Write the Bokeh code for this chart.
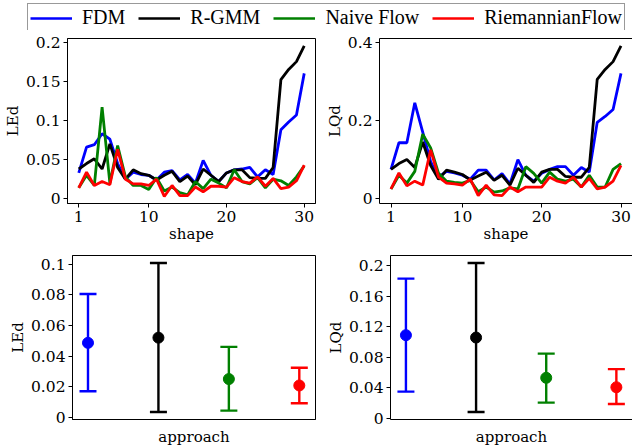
from bokeh.plotting import figure
from bokeh.layouts import column, row
from bokeh.models import (ColumnDataSource, Legend, LegendItem, FixedTicker,
                          CustomJSTickFormatter, Range1d, Whisker, TeeHead, LinearAxis)
from bokeh.embed import file_html
from bokeh.resources import INLINE

FONT = "DejaVu Serif"
LEG_FONT = "Liberation Serif"

approaches = ["FDM", "R-GMM", "Naive Flow", "RiemannianFlow"]
colors = ["#0000ff", "#000000", "#008000", "#ff0000"]

shape = list(range(1, 31))

led_fdm = [0.033, 0.066, 0.069, 0.083, 0.076, 0.045, 0.025, 0.034, 0.031, 0.030,
           0.024, 0.034, 0.036, 0.024, 0.031, 0.020, 0.049, 0.030, 0.022, 0.033,
           0.037, 0.038, 0.040, 0.028, 0.037, 0.031, 0.088, 0.098, 0.107, 0.160]
led_rgmm = [0.038, 0.045, 0.051, 0.038, 0.070, 0.040, 0.025, 0.037, 0.032, 0.030,
            0.024, 0.030, 0.035, 0.022, 0.029, 0.018, 0.038, 0.030, 0.022, 0.033,
            0.037, 0.037, 0.027, 0.026, 0.026, 0.040, 0.152, 0.165, 0.175, 0.195]
led_naive = [0.014, 0.030, 0.017, 0.117, 0.020, 0.068, 0.028, 0.017, 0.017, 0.012,
             0.027, 0.010, 0.015, 0.008, 0.005, 0.022, 0.013, 0.025, 0.020, 0.014,
             0.037, 0.022, 0.019, 0.027, 0.014, 0.025, 0.023, 0.017, 0.028, 0.042]
led_riem = [0.014, 0.034, 0.017, 0.022, 0.018, 0.063, 0.025, 0.019, 0.019, 0.017,
            0.025, 0.003, 0.017, 0.004, 0.004, 0.015, 0.009, 0.016, 0.016, 0.015,
            0.027, 0.022, 0.020, 0.028, 0.016, 0.026, 0.013, 0.015, 0.023, 0.043]

lqd_fdm = [0.075, 0.143, 0.143, 0.245, 0.170, 0.095, 0.055, 0.070, 0.066, 0.060,
           0.050, 0.073, 0.073, 0.048, 0.064, 0.038, 0.100, 0.060, 0.045, 0.065,
           0.075, 0.082, 0.082, 0.060, 0.080, 0.068, 0.195, 0.210, 0.228, 0.320]
lqd_rgmm = [0.075, 0.090, 0.100, 0.080, 0.145, 0.085, 0.050, 0.073, 0.068, 0.062,
            0.048, 0.058, 0.068, 0.047, 0.060, 0.035, 0.078, 0.060, 0.042, 0.068,
            0.075, 0.075, 0.057, 0.055, 0.055, 0.080, 0.305, 0.330, 0.350, 0.390]
lqd_naive = [0.025, 0.060, 0.040, 0.070, 0.165, 0.130, 0.065, 0.045, 0.042, 0.040,
             0.047, 0.018, 0.030, 0.017, 0.020, 0.028, 0.025, 0.082, 0.065, 0.040,
             0.068, 0.050, 0.045, 0.050, 0.030, 0.060, 0.030, 0.030, 0.075, 0.090]
lqd_riem = [0.025, 0.066, 0.033, 0.045, 0.035, 0.125, 0.055, 0.040, 0.038, 0.035,
            0.050, 0.008, 0.035, 0.010, 0.008, 0.030, 0.018, 0.030, 0.030, 0.030,
            0.055, 0.045, 0.040, 0.055, 0.030, 0.052, 0.025, 0.030, 0.045, 0.085]

# summary (mean, lower, upper) per approach
led_mean = [0.0486, 0.0520, 0.0250, 0.0208]
led_low = [0.0170, 0.0035, 0.0044, 0.0092]
led_high = [0.0805, 0.1007, 0.0460, 0.0324]
lqd_mean = [0.1088, 0.1057, 0.0529, 0.0405]
lqd_low = [0.0348, 0.0080, 0.0203, 0.0185]
lqd_high = [0.1830, 0.2035, 0.0846, 0.0643]

x_ticks_top = [1, 10, 20, 30]
led_ticks = [0, 0.05, 0.1, 0.15, 0.2]
lqd_ticks = [0, 0.2, 0.4]
led_ticks_b = [0, 0.02, 0.04, 0.06, 0.08, 0.1]
lqd_ticks_b = [0, 0.04, 0.08, 0.12, 0.16, 0.2]

fmt_code = "return String(Number(tick.toFixed(4)));"


def style(p, xlabel, ylabel, yticks, xticks):
    p.background_fill_color = "white"
    p.border_fill_color = "white"
    p.outline_line_width = 1
    p.xgrid.visible = False
    p.ygrid.visible = False
    xa = p.below[0]
    ya = p.left[0]
    for ax in (xa, ya):
        ax.axis_line_color = "black"
        ax.major_tick_line_color = "black"
        ax.minor_tick_line_color = None
        ax.major_tick_out = 4
        ax.major_tick_in = 0
        ax.major_label_text_font = FONT
        ax.major_label_text_font_size = "15.5px"
        ax.major_label_text_color = "black"
        ax.axis_label_text_font = FONT
        ax.axis_label_text_font_size = "15px"
        ax.axis_label_text_font_style = "normal"
        ax.axis_label_text_color = "black"
        ax.major_label_standoff = 3
        ax.axis_label_standoff = 1
    xa.axis_label = xlabel
    ya.axis_label = ylabel
    xa.ticker = FixedTicker(ticks=xticks)
    ya.ticker = FixedTicker(ticks=yticks)
    ya.formatter = CustomJSTickFormatter(code=fmt_code)
    return xa


def open_right_frame(p):
    # the frame runs past the window's right edge: draw only a top border line
    p.outline_line_color = None
    top = LinearAxis(ticker=FixedTicker(ticks=[]), major_tick_out=0,
                     major_tick_in=0, major_label_standoff=0,
                     axis_line_color="black", minor_tick_line_color=None)
    p.add_layout(top, "above")


def top_plot(series, ylabel, yticks, yr, w, left, right, open_right):
    p = figure(width=w, height=215, output_backend="svg", toolbar_location=None,
               x_range=Range1d(-0.45, 31.45), y_range=Range1d(*yr),
               min_border_left=left, min_border_right=right,
               min_border_top=8, min_border_bottom=42)
    xa = style(p, "shape", ylabel, yticks, x_ticks_top)
    xa.axis_label_standoff = 0
    p.outline_line_color = "black"
    for ys, c in zip(series, colors):
        p.line(shape, ys, line_color=c, line_width=2.8)
    if open_right:
        open_right_frame(p)
    return p


def bottom_plot(means, lows, highs, ylabel, yticks, yr, w, left, right, open_right):
    p = figure(width=w, height=203, output_backend="svg", toolbar_location=None,
               x_range=Range1d(-0.22, 3.23), y_range=Range1d(*yr),
               min_border_left=left, min_border_right=right,
               min_border_top=10, min_border_bottom=29)
    xa = style(p, "approach", ylabel, yticks, [])
    xa.major_tick_out = 0
    xa.major_label_standoff = 0
    xa.axis_label_standoff = 8
    p.outline_line_color = "black"
    for i, c in enumerate(colors):
        src = ColumnDataSource(dict(x=[i], m=[means[i]], lo=[lows[i]], hi=[highs[i]]))
        w_ = Whisker(source=src, base="x", lower="lo", upper="hi",
                     line_color=c, line_width=2.4,
                     upper_head=TeeHead(size=17, line_color=c, line_width=2.4),
                     lower_head=TeeHead(size=17, line_color=c, line_width=2.4))
        p.add_layout(w_)
        p.scatter("x", "m", source=src, size=11, fill_color=c, line_color=c)
    if open_right:
        open_right_frame(p)
    return p


tl = top_plot([led_fdm, led_rgmm, led_naive, led_riem], "LEd", led_ticks,
              (-0.006, 0.2045), 322, 63, 7, False)
tr = top_plot([lqd_fdm, lqd_rgmm, lqd_naive, lqd_riem], "LQd", lqd_ticks,
              (-0.012, 0.409), 310, 57, 0, True)
bl = bottom_plot(led_mean, led_low, led_high, "LEd", led_ticks_b,
                 (-0.0014, 0.1056), 322, 72, 7, False)
br = bottom_plot(lqd_mean, lqd_low, lqd_high, "LQd", lqd_ticks_b,
                 (-0.0018, 0.2133), 310, 68, 0, True)

# legend strip
lg = figure(width=632, height=30, output_backend="svg", toolbar_location=None,
            x_range=Range1d(0, 1), y_range=Range1d(0, 1),
            min_border_left=27, min_border_right=0, min_border_top=3, min_border_bottom=0)
lg.axis.visible = False
lg.xgrid.visible = False
lg.ygrid.visible = False
lg.outline_line_color = None
lg.background_fill_color = "white"
lg.border_fill_color = "white"
items = []
for name, c in zip(approaches, colors):
    r = lg.line([5, 6], [5, 5], line_color=c, line_width=2.6)
    items.append(LegendItem(label=name, renderers=[r]))
leg = Legend(items=items, orientation="horizontal", location="top_left",
             label_text_font=LEG_FONT, label_text_font_size="20px",
             label_text_color="black",
             glyph_width=42, glyph_height=16, label_height=16,
             label_standoff=10, spacing=13, padding=2, margin=0,
             border_line_color="#333333", border_line_width=1,
             background_fill_alpha=1.0)
lg.add_layout(leg, "center")

layout = column(lg, row(tl, tr), row(bl, br))

open("out.html", "w").write(file_html(layout, INLINE))
